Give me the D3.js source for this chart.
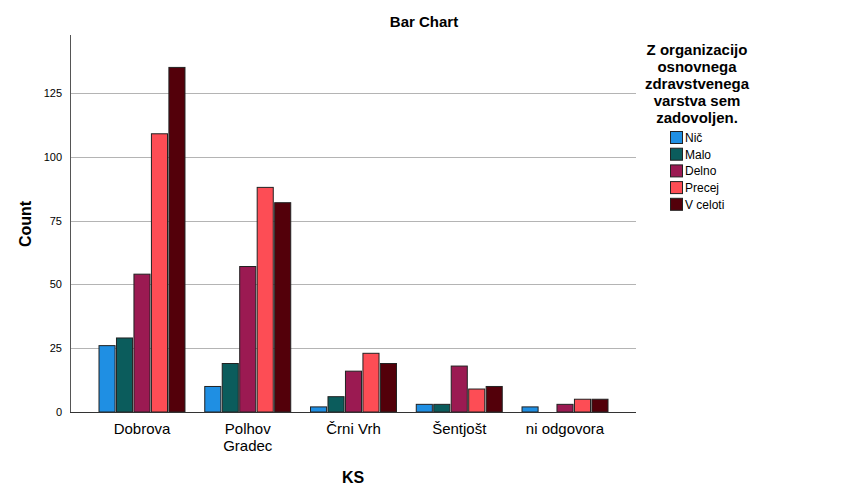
<!DOCTYPE html>
<html><head><meta charset="utf-8">
<script src="https://cdn.jsdelivr.net/npm/d3@7/dist/d3.min.js"></script>
<style>body{margin:0;background:#fff;font-family:Arial,"Liberation Sans",sans-serif;}</style>
</head><body>
<svg id="c" width="849" height="499"></svg>
<script>
const categories = ["Dobrova", "Polhov Gradec", "Črni Vrh", "Šentjošt", "ni odgovora"];
const seriesNames = ["Nič", "Malo", "Delno", "Precej", "V celoti"];
const nic = [26, 10, 2, 3, 2];
const malo = [29, 19, 6, 3, 0];
const delno = [54, 57, 16, 18, 3];
const precej = [109, 88, 23, 9, 5];
const vceloti = [135, 82, 19, 10, 5];
const seriesValues = [nic, malo, delno, precej, vceloti];
const colors = ["#1f8fe3", "#0b5c5c", "#9b1a52", "#fd4d55", "#53000a"];
const yTicks = [0, 25, 50, 75, 100, 125];
const legendTitle = ["Z organizacijo", "osnovnega", "zdravstvenega", "varstva sem", "zadovoljen."];

const svg = d3.select("#c");
const L = 70, R = 636, T = 35, B = 412;
const y = d3.scaleLinear().domain([0, 147.7]).range([B, T]);
const x = d3.scaleBand().domain(categories).range([99, 608]).paddingInner(0.187).paddingOuter(0);
const xs = d3.scaleBand().domain(seriesNames).range([0, x.bandwidth()]).paddingInner(0.08);

// gridlines
svg.append("g").selectAll("line").data(yTicks.filter(d => d > 0)).join("line")
  .attr("x1", L).attr("x2", R).attr("y1", d => Math.round(y(d)) + 0.5).attr("y2", d => Math.round(y(d)) + 0.5)
  .attr("stroke", "#b4b4b4").attr("stroke-width", 1);

// bars
const groups = svg.append("g").selectAll("g").data(categories).join("g")
  .attr("transform", d => `translate(${x(d)},0)`);
groups.selectAll("rect").data((c, i) => seriesNames.map((s, j) => ({s, j, v: seriesValues[j][i]})).filter(d => d.v > 0))
  .join("rect")
  .attr("x", d => xs(d.s)).attr("width", xs.bandwidth())
  .attr("y", d => y(d.v)).attr("height", d => y(0) - y(d.v))
  .attr("fill", d => colors[d.j]).attr("stroke", "#222").attr("stroke-width", 1);

// y axis
const yAxis = d3.axisLeft(y).tickValues(yTicks).tickSize(0).tickSizeOuter(0);
const ga = svg.append("g").attr("transform", `translate(${L},0)`).call(yAxis);
ga.select(".domain").attr("d", `M0.5,${T}V${B}`).attr("stroke", "#555");
ga.selectAll(".tick text").attr("font-family", "Arial, 'Liberation Sans', sans-serif").attr("font-size", 11).attr("fill", "#000").attr("x", -8);

// x axis
svg.append("line").attr("x1", L).attr("x2", R).attr("y1", B + 0.5).attr("y2", B + 0.5).attr("stroke", "#333");
const xl = svg.append("g").selectAll("text").data(categories).join("text")
  .attr("x", d => x(d) + x.bandwidth() / 2).attr("y", 434)
  .attr("text-anchor", "middle").attr("font-size", 15).attr("fill", "#000");
xl.each(function(d) {
  const words = d === "Polhov Gradec" ? ["Polhov", "Gradec"] : [d];
  d3.select(this).selectAll("tspan").data(words).join("tspan")
    .attr("x", x(d) + x.bandwidth() / 2).attr("dy", (w, i) => i ? 17 : 0).text(w => w);
});

// titles
svg.append("text").attr("x", 424).attr("y", 27).attr("text-anchor", "middle")
  .attr("font-size", 15).attr("font-weight", "bold").text("Bar Chart");
svg.append("text").attr("transform", "translate(31,224) rotate(-90)").attr("text-anchor", "middle")
  .attr("font-size", 16).attr("font-weight", "bold").text("Count");
svg.append("text").attr("x", 353).attr("y", 483).attr("text-anchor", "middle")
  .attr("font-size", 16).attr("font-weight", "bold").text("KS");

// legend
svg.append("g").selectAll("text").data(legendTitle).join("text")
  .attr("x", 697).attr("y", (d, i) => 55 + i * 17).attr("text-anchor", "middle")
  .attr("font-size", 15).attr("font-weight", "bold").text(d => d);
const lg = svg.append("g").selectAll("g").data(seriesNames).join("g")
  .attr("transform", (d, i) => `translate(670,${131 + i * 16.7})`);
lg.append("rect").attr("x", 0.5).attr("y", 0.5).attr("width", 12).attr("height", 12)
  .attr("fill", (d, i) => colors[i]).attr("stroke", "#222");
lg.append("text").attr("x", 15).attr("y", 11).attr("font-size", 12).text(d => d);
</script>
</body></html>
